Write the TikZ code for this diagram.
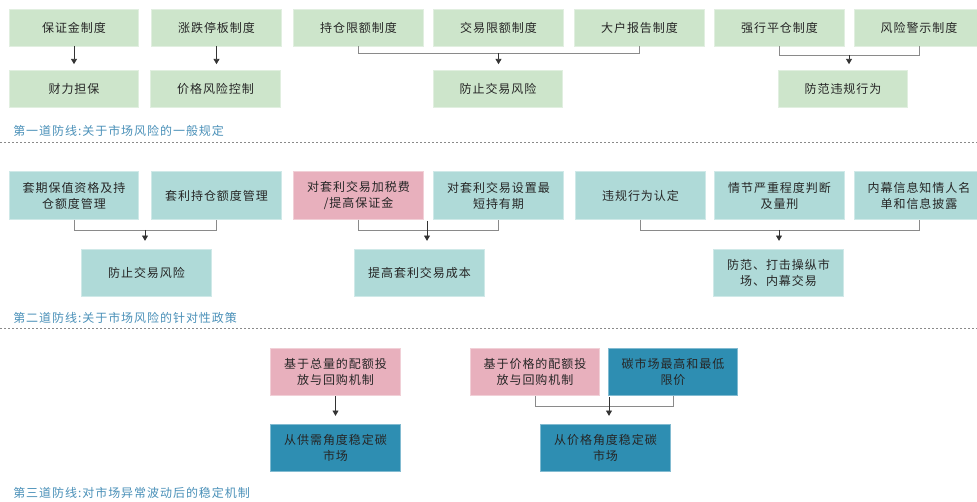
\documentclass[tikz,border=0pt]{standalone}
\usepackage{fontspec}
\newfontfamily\cjk[LetterSpace=8]{Noto Sans CJK SC}
\usetikzlibrary{arrows.meta}
\definecolor{cg}{HTML}{CDE5CB}
\definecolor{ct}{HTML}{AFDAD8}
\definecolor{cp}{HTML}{E8B0BD}
\definecolor{cb}{HTML}{2E8EB2}
\definecolor{lab}{HTML}{4A90B8}
\definecolor{ln}{HTML}{8A8A8A}
\tikzset{
  box/.style={inner sep=0pt, align=center, text=black!85,
    font=\cjk\fontsize{9pt}{12pt}\selectfont, minimum width=97pt, line width=0.7pt},
  gb/.style={box, fill=cg, draw=cg!60!white, minimum height=27.75pt},
  tb/.style={box, fill=ct, draw=ct!60!white, minimum height=35.5pt},
  pb/.style={box, fill=cp, draw=cp!60!white, minimum height=35.5pt},
  bb/.style={box, fill=cb, draw=cb!60!white, minimum height=35.5pt},
  lbl/.style={anchor=west, inner sep=0pt, text=lab, font=\cjk\fontsize{9pt}{12pt}\selectfont},
  conn/.style={draw=ln, line width=0.7pt},
  arr/.style={draw=black!80, line width=0.6pt, -{Triangle[width=4.5pt,length=4pt]}},
  sep/.style={draw=ln, line width=0.5pt, dash pattern=on 1.5pt off 1.5pt}
}
\begin{document}
\begin{tikzpicture}[x=0.75pt,y=-0.75pt]
\useasboundingbox (0,0) rectangle (977,502);
% row 1
\node[gb] (a1) at (74,27.5) {保证金制度};
\node[gb] (a2) at (216.5,27.5) {涨跌停板制度};
\node[gb] (a3) at (358.5,27.5) {持仓限额制度};
\node[gb] (a4) at (498.5,27.5) {交易限额制度};
\node[gb] (a5) at (639.5,27.5) {大户报告制度};
\node[gb] (a6) at (779.5,27.5) {强行平仓制度};
\node[gb] (a7) at (919,27.5) {风险警示制度};
\node[gb] (b1) at (74,88.5) {财力担保};
\node[gb] (b2) at (215.5,88.5) {价格风险控制};
\node[gb] (b3) at (498,88.5) {防止交易风险};
\node[gb] (b4) at (843,88.5) {防范违规行为};
\draw[arr] (a1.south) -- ([yshift=4pt]b1.north);
\draw[arr] (a2.south) -- ([yshift=4pt]b2.north-|a2.south);
\draw[conn] (a3.south) -- ++(0,7) -| (a5.south);
\coordinate (j1) at (498.5,53);
\draw[arr] (j1) -- ([yshift=4pt]b3.north-|j1);
\draw[conn] (a6.south) -- ++(0,9) -| (a7.south);
\coordinate (j2) at (849,55);
\draw[arr] (j2) -- ([yshift=4pt]b4.north-|j2);
\node[lbl] (l1) at (13,131) {第一道防线:关于市场风险的一般规定};
\coordinate (s1a) at (0,142); \coordinate (s1b) at (977,142);
\draw[sep] (s1a) -- (s1b);
% row 2
\node[tb] (c1) at (74,195.5) {套期保值资格及持\\仓额度管理};
\node[tb] (c2) at (216.5,195.5) {套利持仓额度管理};
\node[pb] (c3) at (358.5,195.5) {对套利交易加税费\\/提高保证金};
\node[tb] (c4) at (498.5,195.5) {对套利交易设置最\\短持有期};
\node[tb] (c5) at (640.5,195.5) {违规行为认定};
\node[tb] (c6) at (779.5,195.5) {情节严重程度判断\\及量刑};
\node[tb] (c7) at (919,195.5) {内幕信息知情人名\\单和信息披露};
\node[tb] (d1) at (146.5,273) {防止交易风险};
\node[tb] (d2) at (419.5,273) {提高套利交易成本};
\node[tb] (d3) at (778.5,273) {防范、打击操纵市\\场、内幕交易};
\draw[conn] (c1.south) -- ++(0,11) -| (c2.south);
\coordinate (j3) at (145,230);
\draw[arr] (j3) -- ([yshift=6pt]d1.north-|j3);
\draw[conn] (c3.south) -- ++(0,11) -| (c4.south);
\coordinate (j4) at (427,221);
\draw[arr] (j4) -- ([yshift=6pt]d2.north-|j4);
\draw[conn] (c5.south) -- ++(0,11) -| (c7.south);
\coordinate (j5) at (779,230);
\draw[arr] (j5) -- ([yshift=6pt]d3.north-|j5);
\node[lbl] (l2) at (13,318) {第二道防线:关于市场风险的针对性政策};
\coordinate (s2a) at (0,328); \coordinate (s2b) at (977,328);
\draw[sep] (s2a) -- (s2b);
% row 3
\node[pb] (e1) at (335.5,372) {基于总量的配额投\\放与回购机制};
\node[pb] (e2) at (535,372) {基于价格的配额投\\放与回购机制};
\node[bb] (e3) at (673,372) {碳市场最高和最低\\限价};
\node[bb] (f1) at (335.5,448) {从供需角度稳定碳\\市场};
\node[bb] (f2) at (605.5,448) {从价格角度稳定碳\\市场};
\draw[arr] (e1.south) -- ([yshift=6pt]f1.north);
\draw[conn] (e2.south) -- ++(0,10) -| (e3.south);
\coordinate (j6) at (609,397);
\draw[arr] (j6) -- ([yshift=6pt]f2.north-|j6);
\node[lbl] (l3) at (13,493) {第三道防线:对市场异常波动后的稳定机制};
\end{tikzpicture}
\end{document}
